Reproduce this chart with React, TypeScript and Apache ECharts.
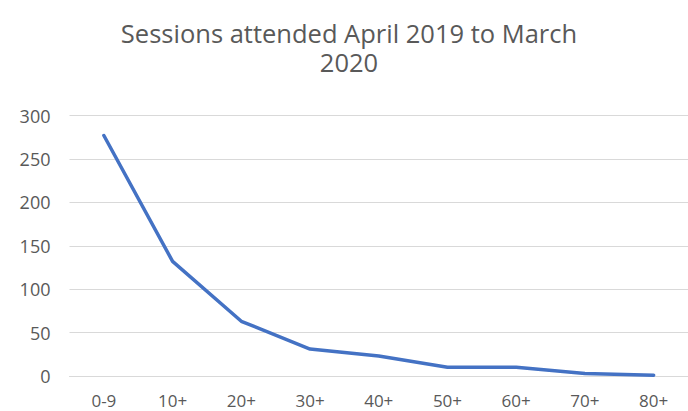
import React, { useEffect, useRef } from "react";
import * as echarts from "echarts";

const titleLines = ["Sessions attended April 2019 to March", "2020"];
const categories = ["0-9", "10+", "20+", "30+", "40+", "50+", "60+", "70+", "80+"];
const sessions = [277, 132, 63, 31, 23, 10, 10, 3, 1];
const yTicks = { min: 0, max: 300, interval: 50 };

export default function App() {
  const ref = useRef<HTMLDivElement>(null);
  useEffect(() => {
    if (!ref.current) return;
    const chart = echarts.init(ref.current, undefined, { renderer: "svg" });
    const font = "'Open Sans', 'Noto Sans', sans-serif";
    chart.setOption({
      animation: false,
      backgroundColor: "#ffffff",
      graphic: titleLines.map((t, i) => ({
        type: "text",
        x: 349,
        y: 33 + i * 29,
        style: {
          text: t,
          fontFamily: font,
          fontSize: 25.5,
          fill: "#595959",
          textAlign: "center",
          textVerticalAlign: "middle",
        },
      })),
      grid: { left: 69.5, top: 115.5, width: 639, height: 260.5 },
      xAxis: {
        type: "category",
        data: categories,
        boundaryGap: true,
        axisLine: { show: true, lineStyle: { color: "#D9D9D9", width: 1 } },
        axisTick: { show: false },
        axisLabel: { color: "#595959", fontSize: 17, lineHeight: 17, fontFamily: font, margin: 16 },
        splitLine: { show: false },
      },
      yAxis: {
        type: "value",
        min: yTicks.min,
        max: yTicks.max,
        interval: yTicks.interval,
        axisLine: { show: false },
        axisTick: { show: false },
        axisLabel: { color: "#595959", fontSize: 18, fontFamily: font, margin: 19 },
        splitLine: { show: true, lineStyle: { color: "#D9D9D9", width: 1 } },
      },
      series: [
        {
          type: "line",
          data: sessions,
          symbol: "none",
          lineStyle: { color: "#4472C4", width: 3.5, cap: "round", join: "round" },
        },
      ],
    });
    return () => chart.dispose();
  }, []);
  return (
    <div
      ref={ref}
      style={{ position: "fixed", left: 0, top: 0, width: 688, height: 411 }}
    />
  );
}
